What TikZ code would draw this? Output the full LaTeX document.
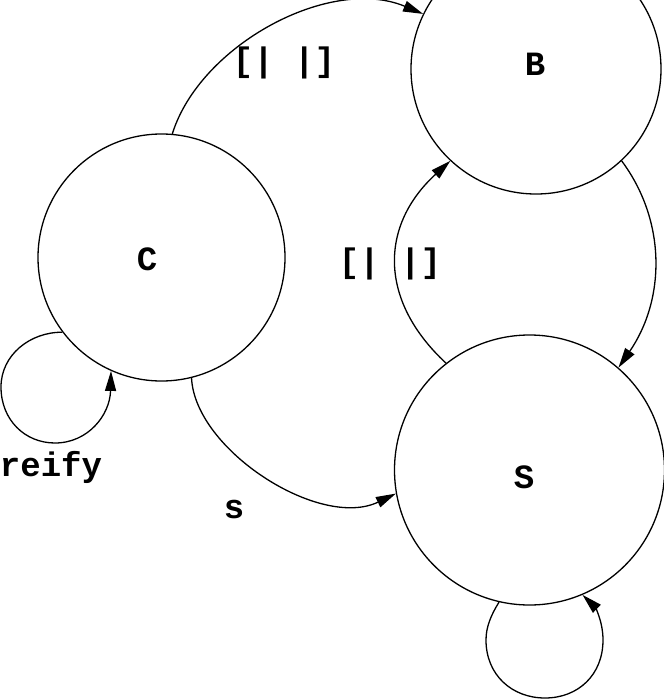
\documentclass[tikz,border=0pt]{standalone}
\usepackage{fontspec}
\setmonofont{Liberation Mono}
\usetikzlibrary{arrows.meta}

\begin{document}
\begin{tikzpicture}[
x=1pt,y=-1pt,
font=\ttfamily\bfseries\fontsize{34}{40}\selectfont,
round/.style={circle,draw,line width=1.3pt,inner sep=0pt},
trans/.style={-{Triangle[length=20pt,width=11pt]},line width=1.3pt}]
    % Frame
    \useasboundingbox (0,0) rectangle (664,699);
    \clip (0,0) rectangle (664,699);

    % Draw states
    \node[round,minimum size=247pt,label={[xshift=-14.5pt,yshift=-1.5pt]center:C}] (C) at (161.5,257.5) {};
    \node[round,minimum size=250pt,label={[xshift=-1pt,yshift=4.5pt]center:B}] (B) at (536,69) {};
    \node[round,minimum size=270pt,label={[xshift=-5.5pt,yshift=-7.5pt]center:S}] (S) at (529.5,470) {};

    % Draw transitions
    \draw[trans] (C.85) .. controls (200,45) and (330,-25) .. (B.154);
    \draw[trans] (S.128) .. controls (378,300) and (380,225) .. (B.227);
    \draw[trans] (B.313) .. controls (667,222) and (665,300) .. (S.49);
    \draw[trans] (C.284) .. controls (195,450) and (320,530) .. (S.190);

    % Loops
    \draw[trans] (C.217) .. controls (30,332) and (1,355) .. (1,387)
        .. controls (1,420) and (25,443) .. (55,443)
        .. controls (88,443) and (110,415) .. (C.246);
    \draw[trans] (S.257) .. controls (491,615) and (486,627) .. (486,640)
        .. controls (486,675) and (512,698) .. (545,698)
        .. controls (578,698) and (603,675) .. (603,640)
        .. controls (603,620) and (594,606) .. (S.293);

    % Labels
    \node (lCB) at (284,63) {[| |]};
    \node (lSB) at (390,264) {[| |]};
    \node (lCS) at (234,510) {s};
    \node (lCC) at (51,467) {reify};

\end{tikzpicture}
\end{document}
